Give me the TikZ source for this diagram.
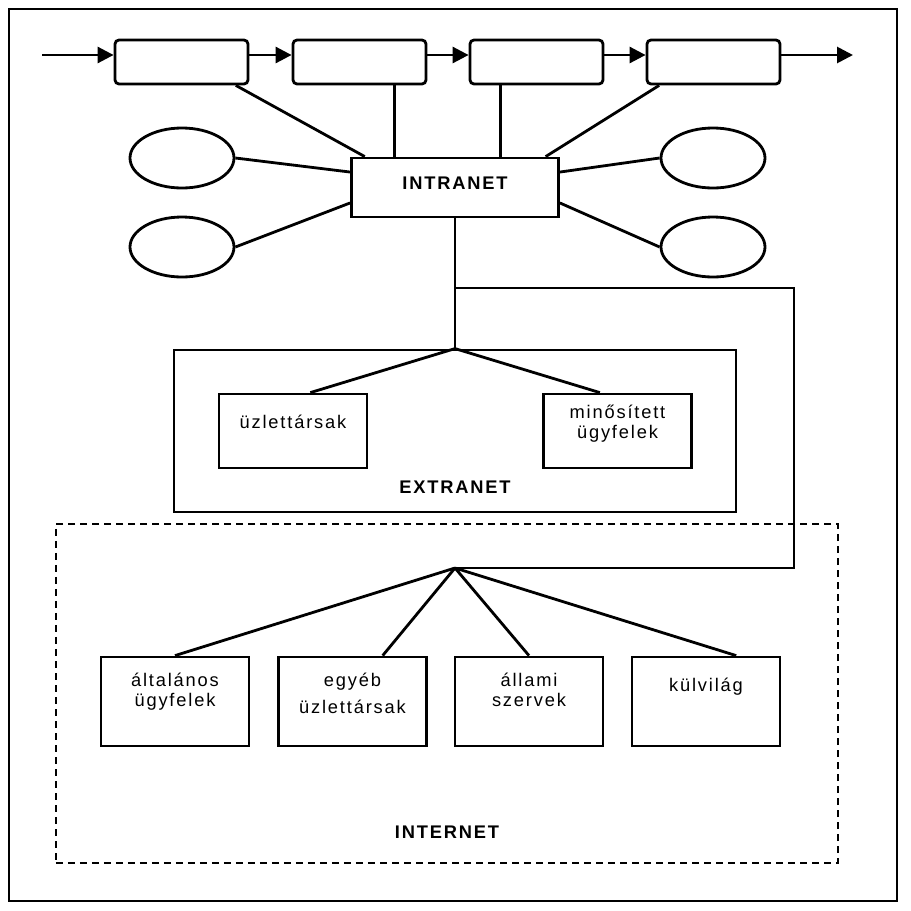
\documentclass[tikz,border=0pt]{standalone}
\usepackage{fontspec}
\setmainfont[LetterSpace=10]{Liberation Sans}
\usetikzlibrary{positioning,calc,arrows.meta,shapes.geometric}

\begin{document}
\begin{tikzpicture}[x=0.25mm,y=-0.25mm,line width=0.7mm]
\tikzstyle{procbox} = [draw, rounded corners=1mm, minimum width=33.25mm, minimum height=11mm, inner sep=0pt]
\tikzstyle{myell} = [draw, ellipse, minimum width=26mm, minimum height=15mm, inner sep=0pt]
\tikzstyle{mybox} = [draw, rectangle, inner sep=0pt]
\tikzstyle{partbox} = [mybox, minimum width=37mm, minimum height=18.5mm]
\tikzstyle{netbox} = [mybox, minimum width=37mm, minimum height=22.25mm]
\tikzstyle{lbl} = [font=\fontsize{13}{14.2}\selectfont, align=center, inner sep=0pt, anchor=base]
\tikzstyle{caplbl} = [lbl, font=\fontsize{13}{14.2}\selectfont\bfseries]
\tikzstyle{arr} = [-{Triangle[length=4mm,width=4mm]}]

\useasboundingbox (0,0) rectangle (911,911);
\draw (9,9) rectangle (897,901);

\node[procbox] (p1) at (181.5,62) {};
\node[procbox] (p2) at (359.5,62) {};
\node[procbox] (p3) at (536.5,62) {};
\node[procbox] (p4) at (713.5,62) {};
\coordinate (in) at (42,55);
\coordinate (out) at (853,55);
\draw[arr] (in) -- (in -| p1.west);
\draw[arr] (p1.east |- in) -- (p2.west |- in);
\draw[arr] (p2.east |- in) -- (p3.west |- in);
\draw[arr] (p3.east |- in) -- (p4.west |- in);
\draw[arr] (p4.east |- in) -- (out);

\node[mybox, minimum width=51.75mm, minimum height=14.75mm, text depth=2mm,
  font=\fontsize{13}{14.2}\selectfont\bfseries] (intra) at (455,187.5) {INTRANET};
\node[myell] (e1) at (182,158) {};
\node[myell] (e2) at (182,247) {};
\node[myell] (e3) at (713,158) {};
\node[myell] (e4) at (713,247) {};

\coordinate (v2) at ($(intra.north west)!0.213!(intra.north east)$);
\coordinate (v3) at ($(intra.north west)!0.715!(intra.north east)$);
\draw ($(p1.south west)!0.9!(p1.south east)$) -- ($(intra.north west)!0.07!(intra.north east)$);
\draw (v2 |- p2.south) -- (v2);
\draw (v3 |- p3.south) -- (v3);
\draw ($(p4.south west)!0.1!(p4.south east)$) -- ($(intra.north west)!0.932!(intra.north east)$);
\draw (e1.east) -- ($(intra.north west)!0.25!(intra.south west)$);
\draw (e2.east) -- ($(intra.north west)!0.75!(intra.south west)$);
\draw (e3.west) -- ($(intra.north east)!0.25!(intra.south east)$);
\draw (e4.west) -- ($(intra.north east)!0.75!(intra.south east)$);

% extranet
\node[mybox, minimum width=140.5mm, minimum height=40.5mm] (ext) at (455,431) {};
\node[partbox] (partner) at (293,431) {};
\node[partbox] (qual) at (617.5,431) {};
\draw (intra.south) -- (ext.north);
\draw (ext.north) -- ($(partner.north west)!0.615!(partner.north east)$);
\draw (ext.north) -- ($(qual.north west)!0.383!(qual.north east)$);
\node[lbl] (partnertxt) at ($(partner.north)+(0,36)$) {üzlettársak};
\node[lbl] (qualtxt) at ($(qual.north)+(0,46)$) {minősített\\ügyfelek};
\node[caplbl] (exttxt) at ($(ext.south)+(0,-20)$) {EXTRANET};

% internet
\node[mybox, dash pattern=on 1.75mm off 1.25mm, minimum width=195.5mm, minimum height=84.75mm] (inet) at (447,693.5) {};
\coordinate (hub) at (455,568);
\coordinate (j1) at (794,288);
\coordinate (j2) at (794,568);
\draw (intra.south |- j1) -- (j1) -- (j2) -- (hub);

\node[netbox] (gen) at (175,701.5) {};
\node[netbox] (other) at (352.5,701.5) {};
\node[netbox] (state) at (529,701.5) {};
\node[netbox] (world) at (706,701.5) {};
\draw (hub) -- (gen.north);
\draw (hub) -- ($(other.north west)!0.7!(other.north east)$);
\draw (hub) -- (state.north);
\draw (hub) -- ($(world.north west)!0.7!(world.north east)$);
\node[lbl] (gentxt) at ($(gen.north)+(0,51)$) {általános\\ügyfelek};
\node[lbl] (othertxt) at ($(other.north)+(0,58)$) {egyéb\\[1.75mm]üzlettársak};
\node[lbl] (statetxt) at ($(state.north)+(0,51)$) {állami\\szervek};
\node[lbl] (worldtxt) at ($(world.north)+(0,36)$) {külvilág};
\node[caplbl] (inettxt) at ($(inet.south)+(0,-26)$) {INTERNET};
\end{tikzpicture}
\end{document}
